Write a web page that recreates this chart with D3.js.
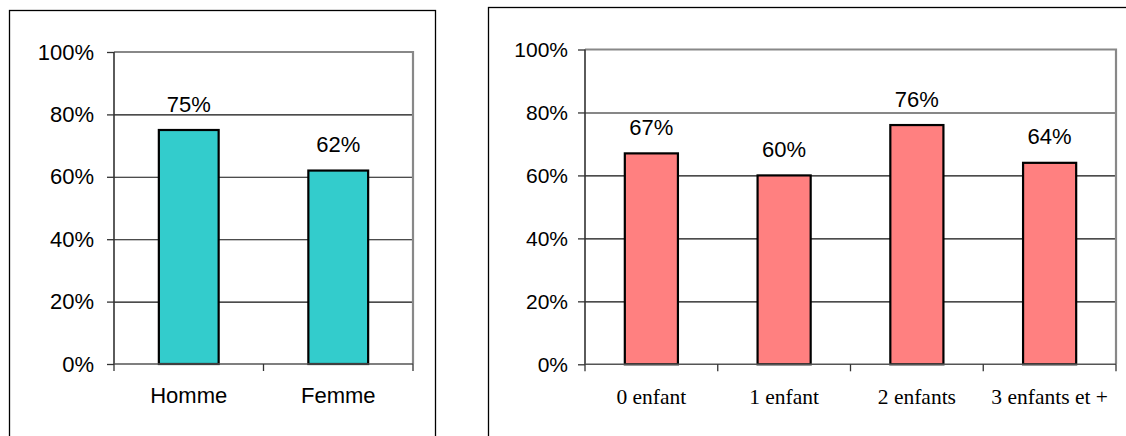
<!DOCTYPE html>
<html><head><meta charset="utf-8">
<script src="https://cdn.jsdelivr.net/npm/d3@7"></script>
<style>html,body{margin:0;padding:0;background:#fff;}svg{display:block;}</style>
</head><body>
<svg id="c" width="1126" height="436"></svg>
<script>
const sexCategories = ["Homme", "Femme"];
const sexValues = [0.75, 0.62];
const childCategories = ["0 enfant", "1 enfant", "2 enfants", "3 enfants et +"];
const childValues = [0.67, 0.60, 0.76, 0.64];
const yTicks = [0, 0.2, 0.4, 0.6, 0.8, 1.0];

const svg = d3.select("#c");
const pct = d3.format(".0%");

function drawChart(cfg) {
  const g = svg.append("g");
  g.append("rect").attr("x", cfg.frame[0]).attr("y", cfg.frame[1])
    .attr("width", cfg.frame[2]).attr("height", cfg.frame[3])
    .attr("fill", "#fff").attr("stroke", "#000").attr("stroke-width", 1.3);

  const [x0, x1, yTop, yBot] = cfg.plot;
  const y = d3.scaleLinear().domain([0, 1]).range([yBot, yTop]);
  const x = d3.scaleBand().domain(cfg.cats).range([x0, x1]).paddingInner(0.6).paddingOuter(0.3);

  g.append("g").attr("transform", `translate(${x0},0)`)
    .call(d3.axisLeft(y).tickValues(yTicks.slice(1, -1)).tickSize(-(x1 - x0)).tickFormat(""))
    .call(s => s.select(".domain").remove())
    .call(s => s.selectAll("line").attr("stroke", "#111").attr("stroke-width", 1.1));

  g.append("path").attr("d", `M${x0},${yTop}H${x1}V${yBot}`)
    .attr("fill", "none").attr("stroke", "#888").attr("stroke-width", 2.2);

  g.selectAll("rect.bar").data(cfg.vals).join("rect").attr("class", "bar")
    .attr("x", (d, i) => x(cfg.cats[i]))
    .attr("y", d => y(d))
    .attr("width", x.bandwidth())
    .attr("height", d => y(0) - y(d))
    .attr("fill", cfg.color).attr("stroke", "#000").attr("stroke-width", 2.2);

  g.selectAll("text.val").data(cfg.vals).join("text").attr("class", "val")
    .attr("x", (d, i) => x(cfg.cats[i]) + x.bandwidth() / 2)
    .attr("y", d => y(d) - 18.5)
    .attr("text-anchor", "middle")
    .attr("font-family", "Liberation Sans, Arial, sans-serif")
    .attr("font-size", cfg.valSize).attr("fill", "#000")
    .text(d => pct(d));

  g.append("g").attr("transform", `translate(${x0},0)`)
    .call(d3.axisLeft(y).tickValues(yTicks).tickSize(7).tickPadding(cfg.tickPad).tickFormat(pct))
    .call(s => s.select(".domain").attr("stroke", "#333").attr("stroke-width", 1.6).attr("d", `M0,${yTop}V${yBot}`))
    .call(s => s.selectAll("line").attr("stroke", "#333").attr("stroke-width", 1.3))
    .call(s => s.selectAll("text").attr("font-family", "Liberation Sans, Arial, sans-serif")
      .attr("font-size", cfg.tickSize).attr("fill", "#000"));

  const step = x.step();
  const bounds = d3.range(cfg.cats.length + 1).map(i => x0 + i * step);
  g.append("path").attr("d", `M${x0},${yBot}H${x1}`).attr("stroke", "#555").attr("stroke-width", 1.6);
  g.selectAll("line.xt").data(bounds).join("line").attr("class", "xt")
    .attr("x1", d => d).attr("x2", d => d).attr("y1", yBot).attr("y2", yBot + 7)
    .attr("stroke", "#333").attr("stroke-width", 1.3);
  g.selectAll("text.cat").data(cfg.cats).join("text").attr("class", "cat")
    .attr("x", d => x(d) + x.bandwidth() / 2)
    .attr("y", yBot + cfg.catOffset)
    .attr("text-anchor", "middle")
    .attr("font-family", cfg.catFont)
    .attr("font-size", cfg.catSize).attr("fill", "#000")
    .text(d => d);
}

drawChart({
  frame: [9.5, 10.5, 426, 460],
  plot: [114, 413, 52, 364],
  cats: sexCategories, vals: sexValues, color: "#33CCCC",
  valSize: 22, tickSize: 22, tickPad: 13,
  catFont: "Liberation Sans, Arial, sans-serif", catSize: 22, catOffset: 38.7
});

drawChart({
  frame: [488.5, 7.5, 660, 460],
  plot: [585, 1116, 49.5, 364.3],
  cats: childCategories, vals: childValues, color: "#FF8080",
  valSize: 22, tickSize: 21, tickPad: 10,
  catFont: "Liberation Serif, Times New Roman, serif", catSize: 21.5, catOffset: 39.7
});
</script>
</body></html>
